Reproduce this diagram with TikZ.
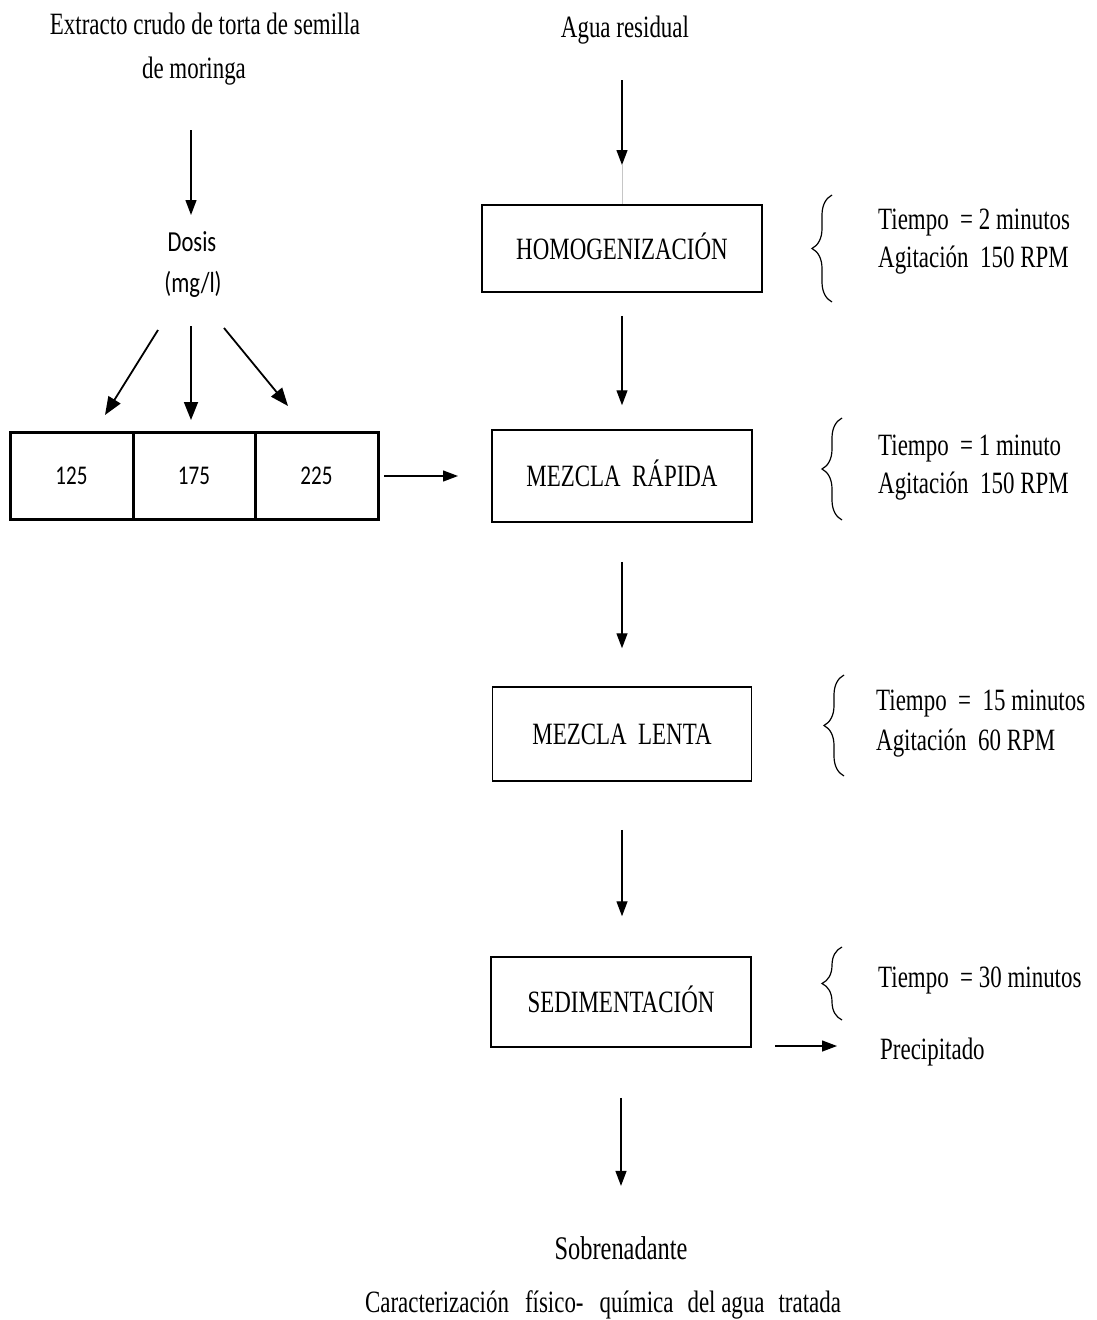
\documentclass[tikz,border=0pt]{standalone}
\usepackage{fontspec}
\setmainfont{Liberation Serif}[FakeStretch=0.74]
\newfontfamily\calib{Carlito}[FakeStretch=0.78]
\usetikzlibrary{arrows.meta,decorations.pathreplacing}

\begin{document}
\begin{tikzpicture}[x=1pt,y=-1pt,
  txt/.style={inner sep=0pt, font=\fontsize{31}{37}\selectfont},
  cal/.style={inner sep=0pt, font=\calib\fontsize{29}{34}\selectfont},
  stage/.style={draw, line width=1.5pt, inner sep=0pt, text height=21pt, text depth=0pt,
    font=\fontsize{31}{37}\selectfont},
  dosecell/.style={draw, line width=3pt, minimum height=87pt, inner sep=0pt,
    text height=18pt, text depth=0pt, font=\calib\fontsize{27}{32}\selectfont},
  arr/.style={line width=1.3pt, -{Triangle[length=15pt,width=11pt]}},
  darr/.style={line width=1.8pt, -{Triangle[length=18pt,width=14pt]}},
  curl/.style={decorate, decoration={brace, amplitude=20pt}, line width=1.2pt},
]
\useasboundingbox (0,0) rectangle (1096,1320);

% sources
\node[txt, anchor=base] (extr1) at (205,34) {Extracto crudo de torta de semilla};
\node[txt, anchor=base] (extr2) at (194,78) {de moringa};
\node[txt, anchor=base] (agua) at (625,37) {Agua residual};

% dose branch
\node[cal, anchor=base] (dosis) at (192,251) {Dosis};
\node[cal, anchor=base] (mgl) at (193,292) {(mg/l)};

\node[dosecell, minimum width=123pt] (d1) at (71.5,475.5) {125};
\node[dosecell, minimum width=122pt] (d2) at (194,475.5) {175};
\node[dosecell, minimum width=123pt] (d3) at (316.5,475.5) {225};

% process stages
\node[stage, minimum width=280pt, minimum height=87pt] (homo) at (622,248.5) {HOMOGENIZACIÓN};
\node[stage, minimum width=260pt, minimum height=92pt] (rapida) at (622,476) {MEZCLA\ \ RÁPIDA};
\node[stage, minimum width=259pt, minimum height=94pt] (lenta) at (622,734) {MEZCLA\ \ LENTA};
\node[stage, minimum width=260pt, minimum height=90pt] (sedi) at (621,1002) {SEDIMENTACIÓN};

% outputs
\node[txt, anchor=base west] (prec) at (880,1059) {Precipitado};
\node[txt, anchor=base, font=\fontsize{33}{39}\selectfont] (sobr) at (621,1259) {Sobrenadante};
\node[txt, anchor=base] (carac) at (603,1312) {Caracterización\hspace{16pt}físico-\hspace{16pt}química\hspace{14pt}del agua\hspace{14pt}tratada};

% operating conditions
\node[txt, anchor=base west] (c1a) at (878,229) {Tiempo\ \ = 2 minutos};
\node[txt, anchor=base west] (c1b) at (878,267) {Agitación\ \ 150 RPM};
\node[txt, anchor=base west] (c2a) at (878,455) {Tiempo\ \ = 1 minuto};
\node[txt, anchor=base west] (c2b) at (878,493) {Agitación\ \ 150 RPM};
\node[txt, anchor=base west] (c3a) at (876,710) {Tiempo\ \ =\ \ 15 minutos};
\node[txt, anchor=base west] (c3b) at (876,750) {Agitación\ \ 60 RPM};
\node[txt, anchor=base west] (c4a) at (878,987) {Tiempo\ \ = 30 minutos};

% braces
\draw[curl] (832,302) -- (832,195);
\draw[curl] (842,520) -- (842,418);
\draw[curl] (844,776) -- (844,675);
\draw[curl] (842,1020) -- (842,947);

% arrow end points
\coordinate (e0) at (191,130);
\coordinate (e1) at (191,215);
\coordinate (a0) at (622,80);
\coordinate (a1) at (622,165);
\coordinate (f1s) at (158,330);
\coordinate (f1e) at (105,415);
\coordinate (f2s) at (191,326);
\coordinate (f2e) at (191,420);
\coordinate (f3s) at (224,328);
\coordinate (f3e) at (288,406);
\coordinate (ds) at (384,476);
\coordinate (de) at (458,476);
\coordinate (ps) at (775,1046);
\coordinate (pe) at (837,1046);

% connectors
\draw[arr] (e0) -- (e1);
\draw[arr] (a0) -- (a1);
\draw[gray!45, line width=1pt] (a1) -- (homo.north);
\draw[darr] (f1s) -- (f1e);
\draw[darr] (f2s) -- (f2e);
\draw[darr] (f3s) -- (f3e);
\draw[arr] (ds) -- (de);
\draw[arr, shorten <=23pt, shorten >=24pt] (homo.south) -- (homo.south |- rapida.north);
\draw[arr, shorten <=39pt, shorten >=38pt] (rapida.south) -- (rapida.south |- lenta.north);
\draw[arr, shorten <=48pt, shorten >=40pt] (lenta.south) -- (lenta.south |- sedi.north);
\draw[arr, shorten <=50pt, shorten >=50pt] (sedi.south) -- (sedi.south |- sobr.north);
\draw[arr] (ps) -- (pe);
\end{tikzpicture}
\end{document}
